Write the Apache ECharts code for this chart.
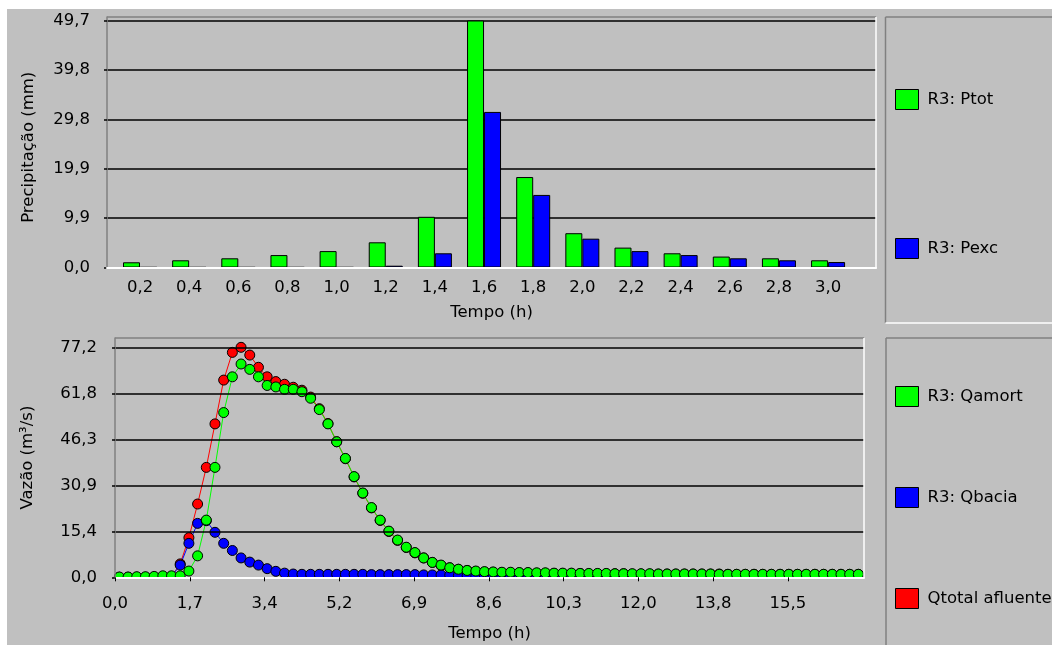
<!DOCTYPE html>
<html>
<head>
<meta charset="utf-8">
<script src="https://cdn.jsdelivr.net/npm/echarts@6/dist/echarts.min.js"></script>
<style>
html,body{margin:0;padding:0;background:#fff;}
#c{width:1052px;height:645px;}
</style>
</head>
<body>
<div id="c"></div>
<script>
// ---- Precipitação (top chart) ----
const tempoChuva = [0.2,0.4,0.6,0.8,1.0,1.2,1.4,1.6,1.8,2.0,2.2,2.4,2.6,2.8,3.0];
const ptot = [1.05,1.45,1.85,2.5,3.3,5.07,10.2,49.7,18.2,6.9,4.0,2.86,2.2,1.85,1.45];
const pexc = [0.05,0.05,0.05,0.05,0.05,0.36,2.86,31.3,14.6,5.8,3.3,2.5,1.85,1.45,1.1];
const precTicks = [0,9.94,19.88,29.82,39.76,49.7];

// ---- Vazão (bottom chart) ----
const tempoVazao = [0.1,0.3,0.5,0.7,0.9,1.1,1.3,1.5,1.7,1.9,
  2.1,2.3,2.5,2.7,2.9,3.1,3.3,3.5,3.7,3.9,
  4.1,4.3,4.5,4.7,4.9,5.1,5.3,5.5,5.7,5.9,
  6.1,6.3,6.5,6.7,6.9,7.1,7.3,7.5,7.7,7.9,
  8.1,8.3,8.5,8.7,8.9,9.1,9.3,9.5,9.7,9.9,
  10.1,10.3,10.5,10.7,10.9,11.1,11.3,11.5,11.7,11.9,
  12.1,12.3,12.5,12.7,12.9,13.1,13.3,13.5,13.7,13.9,
  14.1,14.3,14.5,14.7,14.9,15.1,15.3,15.5,15.7,15.9,
  16.1,16.3,16.5,16.7,16.9,17.1];
const qamort = [0.1,0.1,0.2,0.2,0.3,0.5,0.5,0.5,2.1,7.2,
  19.2,36.9,55.3,67.3,71.6,69.8,67.3,64.4,63.9,63.1,
  63.1,62.3,60.1,56.3,51.5,45.5,39.9,33.8,28.3,23.4,
  19.2,15.5,12.5,10.1,8.3,6.5,5.0,4.1,3.2,2.7,
  2.3,2.1,1.9,1.8,1.7,1.7,1.6,1.6,1.5,1.5,
  1.4,1.4,1.4,1.3,1.3,1.3,1.3,1.2,1.2,1.2,
  1.2,1.2,1.1,1.1,1.1,1.1,1.1,1.1,1.1,1.0,
  1.0,1.0,1.0,1.0,1.0,1.0,1.0,1.0,1.0,1.0,
  1.0,1.0,1.0,1.0,1.0,1.0];
const qbacia = [0,0,0,0,0,0.1,0.3,4.1,11.4,18.1,
  19.0,15.1,11.4,9.0,6.5,5.1,4.1,2.9,2.0,1.4,
  1.1,1.0,1.0,1.0,1.0,1.0,1.0,1.0,1.0,0.9,
  0.9,0.9,0.9,0.9,0.9,0.8,0.8,0.8,0.7,0.6,
  0.5,0.4,0.4,0.3,0.3,0.2,0.2,0.1,0.1,0.1,
  0.1,0.1,0.1,0.1,0.1,0.1,0.1,0.1,0.1,0.1,
  0.1,0.1,0.1,0.1,0.1,0.1,0.1,0.1,0.1,0.1,
  0.1,0.1,0.1,0.1,0.1,0.1,0.1,0.1,0.1,0.1,
  0.1,0.1,0.1,0.1,0.1,0.1];
const qtotal = [0,0,0,0,0,0.1,0.3,4.5,13.3,24.6,
  36.9,51.5,66.2,75.5,77.2,74.6,70.5,67.3,65.7,64.8,
  63.8,62.8,60.5,56.6,51.6,45.5,39.8,33.7,28.2,23.3,
  19.1,15.4,12.4,10.0,8.2,6.5,5.0,4.0,3.2,2.7,
  2.3,2.0,1.8,1.7,1.6,1.6,1.5,1.5,1.4,1.4,
  1.3,1.3,1.3,1.3,1.2,1.2,1.2,1.2,1.2,1.1,
  1.1,1.1,1.1,1.1,1.1,1.1,1.1,1.1,1.1,1.1,
  1.0,1.0,1.0,1.0,1.0,1.0,1.0,1.0,1.0,1.0,
  1.0,1.0,1.0,1.0,1.0,1.0];
const vazaoTicks = [0,15.44,30.88,46.32,61.76,77.2];
const tempoTicks = [0,1.72,3.44,5.16,6.88,8.6,10.32,12.04,13.76,15.48];

const FONT = 'DejaVu Sans';
const FS = 16.5;
const fmt = v => (Math.round(v * 10) / 10).toFixed(1).replace('.', ',');
const txt = {fontFamily: FONT, fontSize: FS, color: '#000'};
const GRAY = '#808080', WHITE = '#ffffff', BG = '#c0c0c0';

function line(x1, y1, x2, y2, color) {
  return {type: 'line', z: 50, shape: {x1, y1, x2, y2}, style: {stroke: color, lineWidth: 1.5}, silent: true};
}

const chart = echarts.init(document.getElementById('c'), null, {renderer: 'canvas'});
chart.setOption({
  animation: false,
  backgroundColor: '#ffffff',
  textStyle: {fontFamily: FONT},
  graphic: [
    {type: 'rect', z: -100, shape: {x: 7, y: 9, width: 1045, height: 636}, style: {fill: BG}, silent: true},
    // masks that clip markers at the plot frame of the lower chart
    {type: 'rect', z: 5, shape: {x: 100, y: 578, width: 775, height: 14}, style: {fill: BG}, silent: true},
    {type: 'rect', z: 5, shape: {x: 864.8, y: 336, width: 20, height: 245}, style: {fill: BG}, silent: true},
    line(107, 17, 876, 17, GRAY),
    line(876, 17, 876, 268.5, WHITE),
    line(115, 338, 864, 338, GRAY),
    line(864, 338, 864, 578, WHITE),
    line(885.5, 17, 885.5, 323, GRAY),
    line(885.5, 17, 1052, 17, GRAY),
    line(885.5, 323, 1052, 323, WHITE),
    line(886, 338, 886, 645, GRAY),
    line(886, 338, 1052, 338, GRAY)
  ],
  legend: [
    {
      data: ['R3: Ptot', 'R3: Pexc'],
      orient: 'vertical', left: 890, top: 84, itemGap: 128,
      itemWidth: 23, itemHeight: 20, icon: 'rect', selectedMode: false,
      itemStyle: {borderColor: '#000', borderWidth: 1},
      textStyle: Object.assign({padding: [0, 0, 0, 4]}, txt)
    },
    {
      data: ['R3: Qamort', 'R3: Qbacia', 'Qtotal afluente'],
      orient: 'vertical', left: 890, top: 381, itemGap: 80,
      itemWidth: 23, itemHeight: 20, icon: 'rect', selectedMode: false,
      itemStyle: {borderColor: '#000', borderWidth: 1},
      textStyle: Object.assign({padding: [0, 0, 0, 4]}, txt)
    }
  ],
  grid: [
    {left: 107, top: 17, right: 176, bottom: 377.5, containLabel: false},
    {left: 115, top: 338, right: 188, bottom: 67.7, containLabel: false}
  ],
  xAxis: [
    {
      gridIndex: 0, type: 'value', min: 0.0657, max: 3.195, z: 10,
      name: 'Tempo (h)', nameLocation: 'middle', nameGap: 37, nameTextStyle: txt,
      axisLine: {onZero: false, lineStyle: {color: WHITE, width: 2}},
      axisTick: {show: false},
      splitLine: {show: false},
      axisLabel: Object.assign({customValues: tempoChuva, formatter: fmt, margin: 12}, txt)
    },
    {
      gridIndex: 1, type: 'value', min: 0, max: 17.23, z: 10,
      name: 'Tempo (h)', nameLocation: 'middle', nameGap: 48, nameTextStyle: txt,
      axisLine: {onZero: false, lineStyle: {color: WHITE, width: 2}},
      axisTick: {show: true, customValues: tempoTicks, length: 4, lineStyle: {color: '#000', width: 1}},
      splitLine: {show: false},
      axisLabel: Object.assign({customValues: tempoTicks, formatter: fmt, margin: 18}, txt)
    }
  ],
  yAxis: [
    {
      gridIndex: 0, type: 'value', min: 0, max: 50.4,
      name: 'Precipitação (mm)', nameLocation: 'middle', nameRotate: 90, nameGap: 70,
      nameTextStyle: Object.assign({padding: [0, 10, 0, 0]}, txt),
      axisLine: {show: true, onZero: false, lineStyle: {color: GRAY, width: 1.5}},
      axisTick: {show: true, customValues: precTicks, length: 3, lineStyle: {color: '#000', width: 1.5}},
      splitLine: {show: true, lineStyle: {color: '#000', width: 1.5}},
      axisLabel: Object.assign({customValues: precTicks, formatter: fmt, margin: 17}, txt)
    },
    {
      gridIndex: 1, type: 'value', min: 0, max: 80.33, z: 10,
      name: 'Vazão (m³/s)', nameLocation: 'middle', nameRotate: 90, nameGap: 79, nameTextStyle: txt,
      axisLine: {show: true, onZero: false, lineStyle: {color: GRAY, width: 1.5}},
      axisTick: {show: true, customValues: vazaoTicks, length: 3, lineStyle: {color: '#000', width: 1.5}},
      splitLine: {show: true, lineStyle: {color: '#000', width: 1.5}},
      axisLabel: Object.assign({customValues: vazaoTicks, formatter: fmt, margin: 18}, txt)
    }
  ],
  series: [
    {
      name: 'R3: Ptot', type: 'bar', xAxisIndex: 0, yAxisIndex: 0,
      barWidth: 17, barGap: '0%',
      itemStyle: {color: '#00ff00', borderColor: '#000', borderWidth: 1},
      emphasis: {disabled: true},
      data: tempoChuva.map((t, i) => [t, ptot[i]])
    },
    {
      name: 'R3: Pexc', type: 'bar', xAxisIndex: 0, yAxisIndex: 0,
      barWidth: 17, barGap: '0%',
      itemStyle: {color: '#0000ff', borderColor: '#000', borderWidth: 1},
      emphasis: {disabled: true},
      data: tempoChuva.map((t, i) => [t, pexc[i]])
    },
    {
      name: 'Qtotal afluente', type: 'line', xAxisIndex: 1, yAxisIndex: 1,
      symbol: 'circle', symbolSize: 10, showSymbol: true, showAllSymbol: true,
      itemStyle: {color: '#ff0000', borderColor: '#000', borderWidth: 1},
      lineStyle: {color: '#ff0000', width: 1},
      emphasis: {disabled: true},
      data: tempoVazao.map((t, i) => [t, qtotal[i]])
    },
    {
      name: 'R3: Qbacia', type: 'line', xAxisIndex: 1, yAxisIndex: 1,
      symbol: 'circle', symbolSize: 10, showSymbol: true, showAllSymbol: true,
      itemStyle: {color: '#0000ff', borderColor: '#000', borderWidth: 1},
      lineStyle: {color: '#0000ff', width: 1},
      emphasis: {disabled: true},
      data: tempoVazao.map((t, i) => [t, qbacia[i]])
    },
    {
      name: 'R3: Qamort', type: 'line', xAxisIndex: 1, yAxisIndex: 1,
      symbol: 'circle', symbolSize: 10, showSymbol: true, showAllSymbol: true,
      itemStyle: {color: '#00ff00', borderColor: '#000', borderWidth: 1},
      lineStyle: {color: '#00ff00', width: 1},
      emphasis: {disabled: true},
      data: tempoVazao.map((t, i) => [t, qamort[i]])
    }
  ]
});
</script>
</body>
</html>
